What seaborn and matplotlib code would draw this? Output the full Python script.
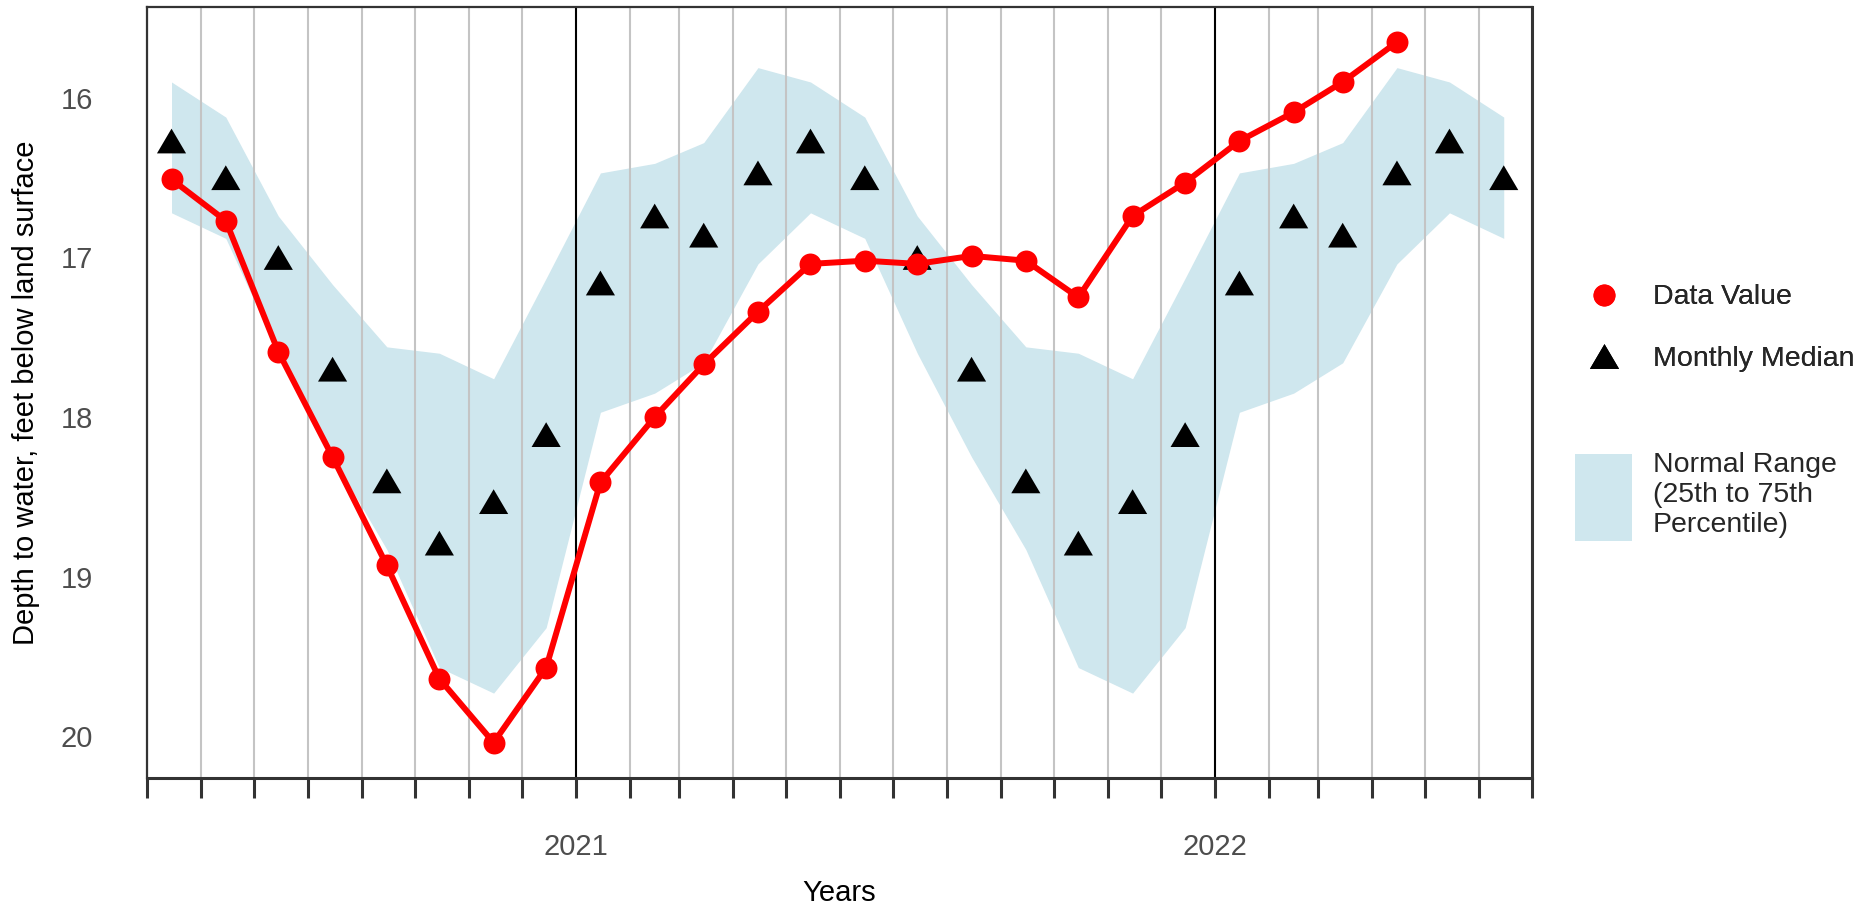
import matplotlib
matplotlib.use("Agg")
import matplotlib.pyplot as plt
import seaborn as sns
import pandas as pd
from matplotlib.lines import Line2D
from matplotlib.patches import Patch
from matplotlib.ticker import FixedLocator, FuncFormatter

# ---- data ----
value_dates = ["2020-05-15", "2020-06-15", "2020-07-15", "2020-08-15", "2020-09-15",
               "2020-10-15", "2020-11-15", "2020-12-15", "2021-01-15", "2021-02-15",
               "2021-03-15", "2021-04-15", "2021-05-15", "2021-06-15", "2021-07-15",
               "2021-08-15", "2021-09-15", "2021-10-15", "2021-11-15", "2021-12-15",
               "2022-01-15", "2022-02-15", "2022-03-15", "2022-04-15"]
data_values = [16.51, 16.77, 17.59, 18.25, 18.93, 19.64, 20.04, 19.57, 18.41, 18.00,
               17.67, 17.34, 17.04, 17.02, 17.04, 16.99, 17.02, 17.25, 16.74, 16.53,
               16.27, 16.09, 15.90, 15.65]

stat_dates = ["2020-05-15", "2020-06-15", "2020-07-15", "2020-08-15", "2020-09-15",
              "2020-10-15", "2020-11-15", "2020-12-15", "2021-01-15", "2021-02-15",
              "2021-03-15", "2021-04-15", "2021-05-15", "2021-06-15", "2021-07-15",
              "2021-08-15", "2021-09-15", "2021-10-15", "2021-11-15", "2021-12-15",
              "2022-01-15", "2022-02-15", "2022-03-15", "2022-04-15", "2022-05-15",
              "2022-06-15"]
monthly_median = [16.27, 16.50, 17.00, 17.70, 18.40, 18.79, 18.53, 18.11, 17.16, 16.74,
                  16.86, 16.47, 16.27, 16.50, 17.00, 17.70, 18.40, 18.79, 18.53, 18.11,
                  17.16, 16.74, 16.86, 16.47, 16.27, 16.50]
p25 = [15.90, 16.12, 16.74, 17.17, 17.56, 17.60, 17.76, 17.13, 16.47, 16.41,
       16.28, 15.81, 15.90, 16.12, 16.74, 17.17, 17.56, 17.60, 17.76, 17.13,
       16.47, 16.41, 16.28, 15.81, 15.90, 16.12]
p75 = [16.72, 16.88, 17.60, 18.25, 18.83, 19.57, 19.73, 19.32, 17.97, 17.85,
       17.66, 17.04, 16.72, 16.88, 17.60, 18.25, 18.83, 19.57, 19.73, 19.32,
       17.97, 17.85, 17.66, 17.04, 16.72, 16.88]

y_ticks = [16, 17, 18, 19, 20]
x_start, x_end = "2020-05-01", "2022-07-01"

val_df = pd.DataFrame({"date": pd.to_datetime(value_dates), "value": data_values})
stat_df = pd.DataFrame({"date": pd.to_datetime(stat_dates), "median": monthly_median,
                        "p25": p25, "p75": p75})

# ---- style ----
sns.set_theme(style="white")
plt.rcParams["font.family"] = ["Liberation Sans", "DejaVu Sans"]
FS = 21
LFS = 20.5

fig = plt.figure(figsize=(18.76, 9.08), dpi=100)
ax = fig.add_axes([0.07836, 0.14317, 0.73814, 0.84879])

ribbon_color = "#cfe7ee"
ax.fill_between(stat_df["date"], stat_df["p25"], stat_df["p75"],
                color=ribbon_color, lw=0, zorder=1)

month_starts = pd.date_range(x_start, x_end, freq="MS")
for d in month_starts:
    ax.axvline(d, color="black" if d.month == 1 else "#c4c4c4",
               lw=1.5, zorder=1.5)

tri = [(0, 0.85), (-1, -0.85), (1, -0.85)]
sns.scatterplot(data=stat_df, x="date", y="median", marker=tri, s=440,
                color="black", edgecolor="none", linewidth=0, ax=ax, zorder=3,
                legend=False)
sns.lineplot(data=val_df, x="date", y="value", color="red", lw=4.3, marker="o",
             markersize=15.8, markeredgewidth=0, ax=ax, zorder=4, legend=False)

ax.set_xlim(pd.Timestamp(x_start), pd.Timestamp(x_end))
ax.set_ylim(20.262, 15.432)

ax.xaxis.set_major_locator(FixedLocator(matplotlib.dates.date2num(month_starts)))
ax.xaxis.set_major_formatter(FuncFormatter(
    lambda v, p: str(matplotlib.dates.num2date(v).year)
    if matplotlib.dates.num2date(v).month == 1 else ""))
ax.set_yticks(y_ticks)
ax.set_yticklabels([str(t) for t in y_ticks])

ax.tick_params(axis="x", which="major", length=14.4, width=2.2, color="#333333",
               labelsize=FS, labelcolor="#4d4d4d", pad=25.5, bottom=True)
ax.tick_params(axis="y", length=0, labelsize=FS, labelcolor="#4d4d4d", pad=39)

for side, sp in ax.spines.items():
    sp.set_visible(True)
    sp.set_color("#333333")
    sp.set_linewidth(1.6)
ax.spines["bottom"].set_linewidth(2.2)
ax.spines["right"].set_linewidth(2.2)

ax.set_xlabel("Years", fontsize=FS, color="black")
ax.set_ylabel("Depth to water, feet below land surface", fontsize=FS, color="black")
ax.xaxis.set_label_coords(0.5, -0.149)
ax.xaxis.label.set_verticalalignment("center")
ax.yaxis.set_label_coords(-0.0874, 0.5)
ax.yaxis.label.set_verticalalignment("center")

# ---- legends ----
h1 = [Line2D([], [], color="red", marker="o", markersize=15.8, markeredgewidth=0, lw=0),
      Line2D([], [], color="black", marker=tri, markersize=21, markeredgewidth=0, lw=0)]
leg1 = fig.legend(h1, ["Data Value", "Monthly Median"], loc="upper left",
                  bbox_to_anchor=(0.8396, 0.6867), frameon=False, fontsize=LFS,
                  handlelength=2.0, handletextpad=0.72, labelspacing=1.25,
                  borderpad=0, borderaxespad=0)
h2 = [Patch(facecolor=ribbon_color, edgecolor="none")]
leg2 = fig.legend(h2, ["Normal Range\n(25th to 75th\nPercentile)"], loc="upper left",
                  bbox_to_anchor=(0.8396, 0.5024), frameon=False, fontsize=LFS,
                  handlelength=2.0, handleheight=4.3, handletextpad=0.72,
                  borderpad=0, borderaxespad=0)
fig.add_artist(leg1)

fig.savefig("out.png", dpi=100)
